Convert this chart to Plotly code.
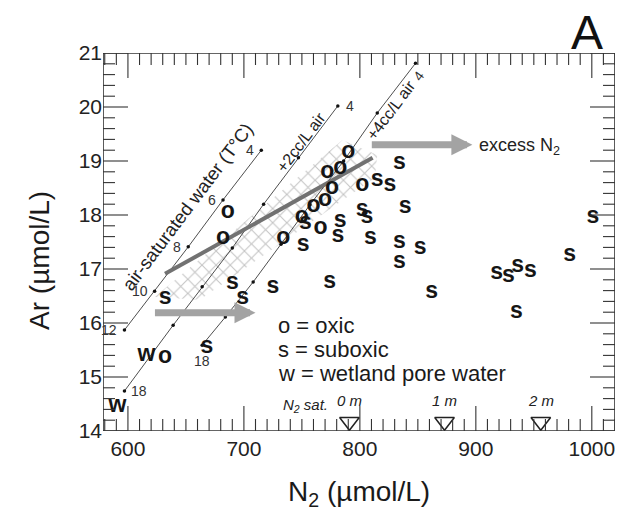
import numpy as np
import plotly.graph_objects as go

# ---------------- data ----------------
# air-saturated water line (temperature labels, N2, Ar)
asw_T = [4, 6, 8, 10, 12]
asw_N2 = [715, 682, 652, 623, 597]
asw_Ar = [19.20, 18.28, 17.41, 16.59, 15.87]

# +2cc/L excess air line
p2_T = [4, 6, 8, 10, 12, 14, 18]
p2_N2 = [781, 747, 717, 690, 664, 639, 597]
p2_Ar = [20.02, 19.06, 18.20, 17.39, 16.67, 15.96, 14.74]

# +4cc/L excess air line
p4_T = [4, 6, 8, 10, 12, 14, 16, 18]
p4_N2 = [848, 815, 786, 757, 732, 708, 684, 664]
p4_Ar = [20.81, 19.89, 19.00, 18.19, 17.46, 16.76, 16.11, 15.59]

# oxic samples
oxic_N2 = [686, 682, 734, 750, 760, 766, 770, 776, 772, 783, 790, 802, 632]
oxic_Ar = [18.06, 17.57, 17.57, 17.96, 18.17, 17.76, 18.28, 18.50, 18.80, 18.87, 19.17, 18.56, 15.37]

# suboxic samples
sub_N2 = [632, 690, 699, 725, 668, 774, 751, 753, 783, 781, 834, 815, 826, 839,
          802, 806, 809, 834, 852, 834, 862, 918, 928, 936, 947, 935, 981, 1001]
sub_Ar = [16.46, 16.74, 16.46, 16.67, 15.56, 16.76, 17.44, 17.85, 17.89, 17.61, 18.96, 18.65, 18.56, 18.15,
          18.09, 17.96, 17.57, 17.50, 17.39, 17.13, 16.57, 16.93, 16.87, 17.06, 16.96, 16.20, 17.26, 17.96]

# wetland pore water samples
wet_N2 = [616, 591]
wet_Ar = [15.41, 14.46]

# shaded (cross-hatched) field and trend line
hatch_N2 = [623, 785, 815, 813, 662, 623]
hatch_Ar = [16.48, 19.39, 19.11, 18.69, 16.43, 16.48]
trend_N2 = [632, 811]
trend_Ar = [16.91, 19.06]

# N2 saturation depth markers
sat_labels = ["0 m", "1 m", "2 m"]
sat_N2 = [791, 873, 956]
sat_Ar = [14.17, 14.17, 14.17]

# arrows (start N2, end N2, Ar)
arrow_excess = [809, 897, 19.30]
arrow_low = [622, 710, 16.19]

# axes
x_range = [578.5, 1020]
y_range = [14, 21]
x_ticks = [600, 700, 800, 900, 1000]
y_ticks = [14, 15, 16, 17, 18, 19, 20, 21]
x_minor_step = 10
y_minor_step = 0.2

FONT = "Liberation Sans"
LINE = "#3a3a3a"
AX = "#333333"
W, H = 626, 511
M = dict(l=103, r=11, t=53, b=80)

fig = go.Figure()

# hatched field
fig.add_trace(go.Scatter(
    x=hatch_N2, y=hatch_Ar, mode="lines", fill="toself",
    line=dict(width=0, color="rgba(0,0,0,0)"), fillcolor="rgba(0,0,0,0)",
    fillpattern=dict(shape="x", fgcolor="#888888", bgcolor="rgba(255,255,255,0)",
                     size=10, solidity=0.2),
    hoverinfo="skip"))

# reference lines
for xs, ys in [(asw_N2, asw_Ar), (p2_N2, p2_Ar), (p4_N2, p4_Ar)]:
    fig.add_trace(go.Scatter(x=xs, y=ys, mode="lines+markers",
                             line=dict(color=LINE, width=0.9),
                             marker=dict(color="#111", size=3.5)))

# trend line
fig.add_trace(go.Scatter(x=trend_N2, y=trend_Ar, mode="lines",
                         line=dict(color="#727272", width=4)))

# samples
mk_font = dict(family=FONT, size=23, color="#151515", weight="bold")
fig.add_trace(go.Scatter(x=sub_N2, y=sub_Ar, mode="text", text=["s"] * len(sub_N2),
                         textfont=mk_font))
fig.add_trace(go.Scatter(x=oxic_N2, y=oxic_Ar, mode="text", text=["o"] * len(oxic_N2),
                         textfont=mk_font))
fig.add_trace(go.Scatter(x=wet_N2, y=wet_Ar, mode="text", text=["w"] * len(wet_N2),
                         textfont=mk_font))

# saturation triangles
fig.add_trace(go.Scatter(x=sat_N2, y=sat_Ar, mode="markers",
                         marker=dict(symbol="triangle-down-open", size=17,
                                     color="#222", line=dict(width=1.5, color="#222"))))

# ---- frame and inward ticks on all four sides (drawn on the axes' scales) ----
px_w = W - M["l"] - M["r"]
px_h = H - M["t"] - M["b"]
xu = (x_range[1] - x_range[0]) / px_w   # N2 units per pixel
yu = (y_range[1] - y_range[0]) / px_h   # Ar units per pixel
LEN_MAJ, LEN_MIN = 25, 12

x_minor = [v for v in np.round(np.arange(580, x_range[1] + 0.01, x_minor_step), 6)
           if v not in x_ticks]
y_minor = [v for v in np.round(np.arange(y_range[0], y_range[1] + 1e-9, y_minor_step), 6)
           if not np.isclose(v, np.round(v))]

tx, ty = [], []
for vals, ln in ((x_ticks, LEN_MAJ), (x_minor, LEN_MIN)):
    for v in vals:
        tx += [v, v, None, v, v, None]
        ty += [y_range[0], y_range[0] + ln * yu, None, y_range[1], y_range[1] - ln * yu, None]
for vals, ln in ((y_ticks, LEN_MAJ), (y_minor, LEN_MIN)):
    for v in vals:
        tx += [x_range[0], x_range[0] + ln * xu, None, x_range[1], x_range[1] - ln * xu, None]
        ty += [v, v, None, v, v, None]
fig.add_trace(go.Scatter(x=tx, y=ty, mode="lines", line=dict(color=AX, width=1.1),
                         cliponaxis=False, hoverinfo="skip"))
fig.add_trace(go.Scatter(x=[x_range[0], x_range[1], x_range[1], x_range[0], x_range[0]],
                         y=[y_range[0], y_range[0], y_range[1], y_range[1], y_range[0]],
                         mode="lines", line=dict(color=AX, width=1.6),
                         cliponaxis=False, hoverinfo="skip"))

ann = []
lab_font = dict(family=FONT, size=14, color="#333")
# temperature labels
for t, x, y in zip(asw_T, asw_N2, asw_Ar):
    ann.append(dict(x=x, y=y, text=str(t), showarrow=False, xanchor="right",
                    xshift=-5, font=lab_font))
ann.append(dict(x=p2_N2[0], y=p2_Ar[0], text=str(p2_T[0]), showarrow=False,
                xanchor="left", xshift=6, font=lab_font))
ann.append(dict(x=p2_N2[-1], y=p2_Ar[-1], text=str(p2_T[-1]), showarrow=False,
                xanchor="left", xshift=5, font=lab_font))
ann.append(dict(x=p4_N2[-1], y=p4_Ar[-1], text=str(p4_T[-1]), showarrow=False,
                yshift=-16, font=lab_font))
ann.append(dict(x=p4_N2[0], y=p4_Ar[0], text=str(p4_T[0]), showarrow=False,
                xshift=3, yshift=-13, textangle=-53, font=lab_font))

# line labels
ann.append(dict(x=651.7, y=18.15, text="air-saturated water (T°C)", showarrow=False,
                textangle=-53, font=dict(family=FONT, size=18.5, color="#222")))
ann.append(dict(x=749, y=19.35, text="+2cc/L air", showarrow=False,
                textangle=-53, font=dict(family=FONT, size=16, color="#222")))
ann.append(dict(x=826.5, y=19.94, text="+4cc/L air", showarrow=False,
                textangle=-53, font=dict(family=FONT, size=16, color="#222")))

# arrows
for a in (arrow_excess, arrow_low):
    ann.append(dict(x=a[1], y=a[2], ax=a[0], ay=a[2], xref="x", yref="y",
                    axref="x", ayref="y", text="", showarrow=True,
                    arrowhead=2, arrowsize=0.6, arrowwidth=7, arrowcolor="#a3a3a3"))
ann.append(dict(x=901, y=19.27, text="excess N<sub>2</sub>", showarrow=False,
                xanchor="left", font=dict(family=FONT, size=18, color="#222")))

# key
for i, s in enumerate(["o = oxic", "s = suboxic", "w = wetland pore water"]):
    ann.append(dict(x=727.5, y=15.96 - 0.45 * i, text=s, showarrow=False, xanchor="left",
                    font=dict(family=FONT, size=22, color="#1a1a1a")))

# saturation labels
ann.append(dict(x=753, y=14.48, text="<i>N<sub>2</sub> sat.</i>", showarrow=False,
                xanchor="center", font=dict(family=FONT, size=15, color="#222")))
for lab, x in zip(sat_labels, sat_N2):
    ann.append(dict(x=x, y=14.56, text="<i>" + lab + "</i>", showarrow=False,
                    font=dict(family=FONT, size=15, color="#222")))

fig.update_layout(annotations=ann)
fig.add_annotation(x=-0.123, y=0.45, xref="paper", yref="paper", text="Ar (µmol/L)",
                   showarrow=False, textangle=-90, xanchor="center", yanchor="middle",
                   font=dict(family=FONT, size=28, color="#1a1a1a"))
fig.add_annotation(x=0.5, y=-0.165, xref="paper", yref="paper",
                   text="N<sub>2</sub> (µmol/L)", showarrow=False,
                   xanchor="center", yanchor="middle",
                   font=dict(family=FONT, size=28, color="#1a1a1a"))
fig.add_annotation(x=0.945, y=1.053, xref="paper", yref="paper", text="A",
                   showarrow=False, xanchor="center", yanchor="middle",
                   font=dict(family=FONT, size=48, color="#111"))

fig.update_layout(
    xaxis=dict(range=x_range, tickmode="array", tickvals=x_ticks, ticklabelstandoff=3,
               showline=False, ticks="", showgrid=False, zeroline=False,
               tickfont=dict(family=FONT, size=21, color="#222")),
    yaxis=dict(range=y_range, tickmode="array", tickvals=y_ticks, ticksuffix=" ",
               showline=False, ticks="", showgrid=False, zeroline=False,
               tickfont=dict(family=FONT, size=21, color="#222")),
    width=W, height=H, showlegend=False, margin=M,
    plot_bgcolor="white", paper_bgcolor="white")

fig.write_html("out.html")
